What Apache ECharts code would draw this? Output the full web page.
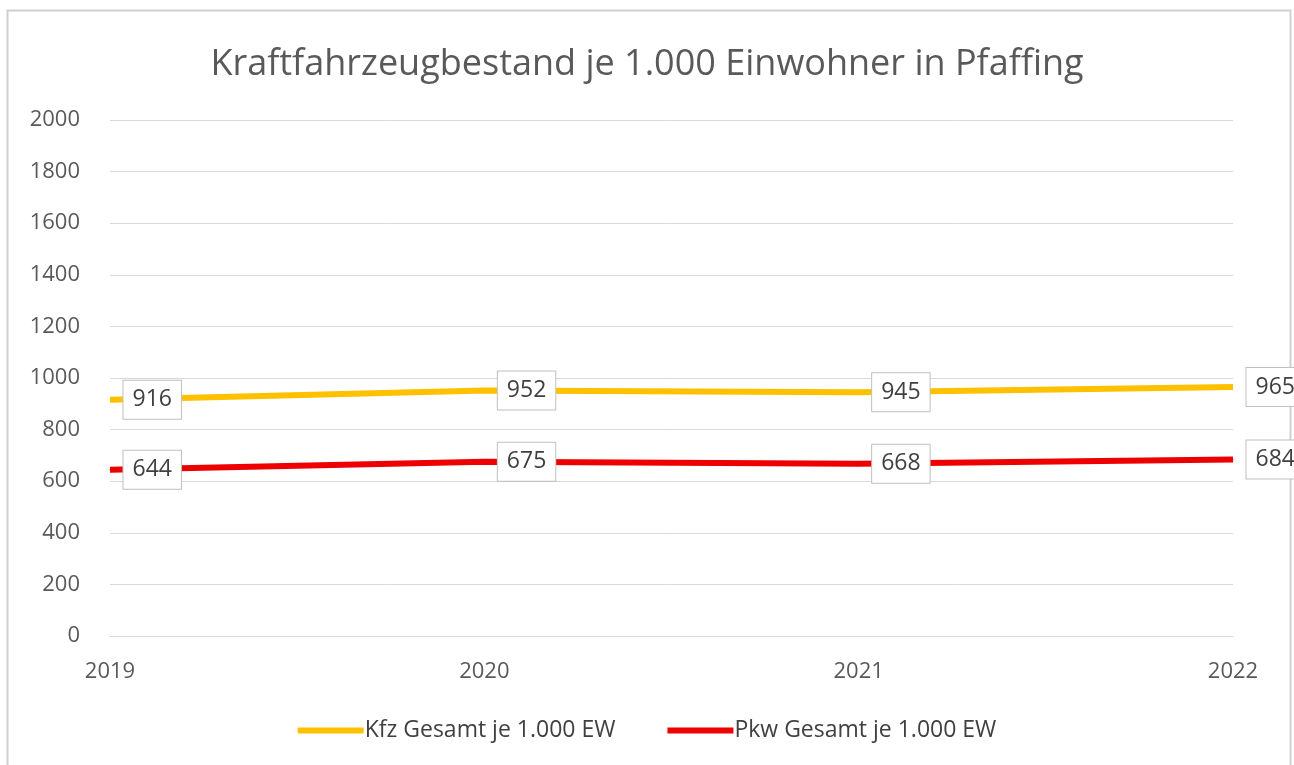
<!DOCTYPE html>
<html>
<head>
<meta charset="utf-8">
<script src="https://cdn.jsdelivr.net/npm/echarts@6/dist/echarts.min.js"></script>
<style>
  html, body { margin: 0; padding: 0; background: #fff; }
  #chart { width: 1294px; height: 765px; }
</style>
</head>
<body>
<div id="chart"></div>
<script>
// chart data
const years = ['2019', '2020', '2021', '2022'];
const kfzGesamt = [916, 952, 945, 965];
const pkwGesamt = [644, 675, 668, 684];
const seriesNames = ['Kfz Gesamt je 1.000 EW', 'Pkw Gesamt je 1.000 EW'];

const chart = echarts.init(document.getElementById('chart'));
const font = '"Open Sans", sans-serif';

// boxed data label, sits right of the point like in Excel
const boxLabel = {
  show: true,
  position: 'right',
  distance: 13,
  fontFamily: font,
  fontSize: 23,
  color: '#404040',
  backgroundColor: '#fff',
  borderColor: '#bfbfbf',
  borderWidth: 1,
  padding: [8, 9, 7, 9],
};

const option = {
  backgroundColor: '#fff',
  animation: false,
  title: {
    text: 'Kraftfahrzeugbestand je 1.000 Einwohner in Pfaffing',
    left: 'center',
    top: 42,
    textStyle: { fontFamily: font, fontSize: 36, fontWeight: 'normal', color: '#595959' },
  },
  // outer frame of the chart area
  graphic: [{
    type: 'rect',
    shape: { x: 7.5, y: 10.5, width: 1283, height: 770 },
    style: { fill: 'none', stroke: '#d0d0d0', lineWidth: 2 },
    silent: true,
  }],
  legend: {
    bottom: 18,
    left: 'center',
    itemWidth: 66,
    itemHeight: 6,
    itemGap: 52,
    icon: 'rect',
    textStyle: { fontFamily: font, fontSize: 23, color: '#404040', padding: [0, 0, 0, -4] },
    data: seriesNames,
  },
  grid: { left: 110, right: 61, top: 120, bottom: 129 },
  xAxis: {
    type: 'category',
    boundaryGap: false,
    data: years,
    axisLine: { lineStyle: { color: '#d9d9d9' } },
    axisTick: { show: false },
    axisLabel: { fontFamily: font, fontSize: 22, color: '#595959', margin: 25 },
  },
  yAxis: {
    type: 'value',
    min: 0,
    max: 2000,
    interval: 200,
    axisLine: { show: false },
    axisTick: { show: false },
    axisLabel: {
      fontFamily: font, fontSize: 22, color: '#595959', margin: 30,
      formatter: (v) => String(v),
    },
    splitLine: { lineStyle: { color: '#d9d9d9', width: 1 } },
  },
  series: [
    {
      name: seriesNames[0],
      type: 'line',
      data: kfzGesamt,
      symbol: 'circle',
      symbolSize: 1,
      lineStyle: { color: '#ffc000', width: 6 },
      itemStyle: { color: '#ffc000' },
      label: boxLabel,
    },
    {
      name: seriesNames[1],
      type: 'line',
      data: pkwGesamt,
      symbol: 'circle',
      symbolSize: 1,
      lineStyle: { color: '#ee0000', width: 6 },
      itemStyle: { color: '#ee0000' },
      label: boxLabel,
    },
  ],
};

chart.setOption(option);
</script>
</body>
</html>
